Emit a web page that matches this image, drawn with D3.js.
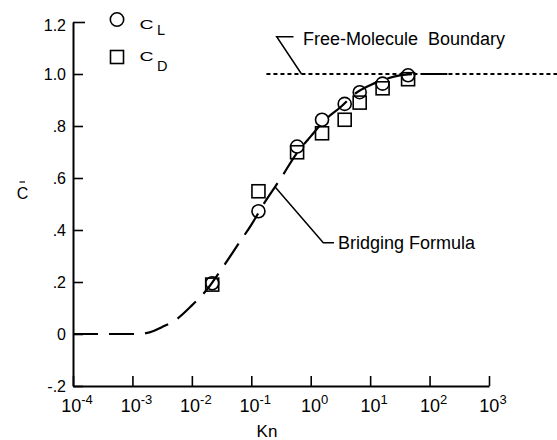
<!DOCTYPE html>
<html><head><meta charset="utf-8">
<script src="https://cdn.jsdelivr.net/npm/d3@7"></script>
<style>
body{margin:0;background:#fff;}
svg{display:block;font-family:"Liberation Sans",Arial,Helvetica,sans-serif;}
</style></head>
<body>
<svg id="chart" width="557" height="440"></svg>
<script>
// ---- data ----
const knPoints = [0.022, 0.132, 0.59, 1.55, 3.73, 6.67, 16.2, 43.5];
const cL = [0.195, 0.472, 0.721, 0.824, 0.885, 0.930, 0.963, 0.995];
const cD = [0.190, 0.549, 0.699, 0.772, 0.824, 0.890, 0.945, 0.980];
// bridging formula curve (log10 Kn, C)
const bridgeLogKn = [-4, -3.5, -3, -2.75, -2.5, -2.25, -2, -1.75, -1.5, -1.25, -1, -0.75, -0.5, -0.25, 0, 0.25, 0.5, 0.75, 1.0, 1.25, 1.5, 1.75, 2.0, 2.3];
const bridgeC =     [0, 0, 0, 0.004, 0.027, 0.058, 0.11, 0.17, 0.25, 0.335, 0.42, 0.515, 0.60, 0.69, 0.76, 0.825, 0.872, 0.925, 0.957, 0.98, 0.995, 1.0, 1.0, 1.0];
// free molecule boundary
const fmKn = [0.18, 1000];
const fmC = [1.0, 1.0];
const xTicks = [1e-4, 1e-3, 1e-2, 1e-1, 1e0, 1e1, 1e2, 1e3];
const xTickExp = ["-4", "-3", "-2", "-1", "0", "1", "2", "3"];
const yTicks = [-0.2, 0, 0.2, 0.4, 0.6, 0.8, 1.0, 1.2];
const yTickLabels = ["-.2", "0", ".2", ".4", ".6", ".8", "1.0", "1.2"];

const svg = d3.select("#chart");
const x = d3.scaleLog().domain([1e-4, 1e3]).range([73, 489]);
const y = d3.scaleLinear().domain([-0.2, 1.2]).range([386, 22]);

// x axis
const gx = svg.append("g").attr("transform", `translate(0,${y(-0.2)})`)
  .call(d3.axisBottom(x).tickValues(xTicks).tickSizeInner(-10).tickSizeOuter(0).tickFormat(""));
gx.select(".domain").attr("stroke-width", 2);
gx.selectAll(".tick line").attr("stroke-width", 1.6);
xTicks.forEach((t, i) => {
  const tx = svg.append("text").attr("x", x(t) + 4).attr("y", 411.5)
    .attr("text-anchor", "middle").attr("font-size", 18).attr("fill", "#000");
  tx.append("tspan").text("10");
  tx.append("tspan").attr("font-size", 13).attr("dy", -8).text(xTickExp[i]);
});

// y axis
const gy = svg.append("g").attr("transform", `translate(${x(1e-4)},0)`)
  .call(d3.axisLeft(y).tickValues(yTicks).tickSizeInner(-10).tickSizeOuter(0).tickPadding(7)
    .tickFormat((d, i) => yTickLabels[i]));
gy.select(".domain").attr("stroke-width", 2);
gy.selectAll(".tick line").attr("stroke-width", 1.6);
gy.selectAll(".tick").filter(d => d === 1.2).select("line").attr("x2", 12);
gy.selectAll(".tick text").attr("font-size", 16).attr("font-family", "Liberation Sans, Arial, sans-serif").attr("fill", "#000");
gy.selectAll(".tick").filter(d => d === 1.2).select("text").attr("dy", "0.55em");

// free molecule boundary (dotted)
svg.append("line")
  .attr("x1", x(fmKn[0])).attr("x2", 557)
  .attr("y1", y(fmC[0])).attr("y2", y(fmC[1]))
  .attr("stroke", "#000").attr("stroke-width", 2).attr("stroke-dasharray", "4,3");

// bridging formula curve (dashed)
const line = d3.line().x(d => x(Math.pow(10, d[0]))).y(d => y(d[1])).curve(d3.curveMonotoneX);
svg.append("path").datum(bridgeLogKn.map((v, i) => [v, bridgeC[i]]))
  .attr("d", line).attr("fill", "none").attr("stroke", "#000")
  .attr("stroke-width", 2.2).attr("stroke-dasharray", "25,11");

// data markers
const sq = 13;
svg.append("g").selectAll("rect").data(knPoints).join("rect")
  .attr("x", (d) => x(d) - sq / 2).attr("y", (d, i) => y(cD[i]) - sq / 2)
  .attr("width", sq).attr("height", sq)
  .attr("fill", "none").attr("stroke", "#000").attr("stroke-width", 1.6);
svg.append("g").selectAll("circle").data(knPoints).join("circle")
  .attr("cx", d => x(d)).attr("cy", (d, i) => y(cL[i])).attr("r", 6.5)
  .attr("fill", "none").attr("stroke", "#000").attr("stroke-width", 1.6);

// legend
svg.append("circle").attr("cx", 117).attr("cy", 19.5).attr("r", 6.7)
  .attr("fill", "none").attr("stroke", "#000").attr("stroke-width", 1.6);
svg.append("rect").attr("x", 110.5).attr("y", 50.5).attr("width", 13).attr("height", 13)
  .attr("fill", "none").attr("stroke", "#000").attr("stroke-width", 1.6);
function legendLabel(tx, ty, sub, subY) {
  svg.append("text").attr("transform", `translate(${tx},${ty}) scale(1.15,0.75)`)
    .attr("font-size", 17).attr("fill", "#000").text("C");
  svg.append("text").attr("x", tx + 17.5).attr("y", subY)
    .attr("font-size", 14.5).attr("fill", "#000").text(sub);
}
legendLabel(139.5, 28.5, "L", 34.5);
legendLabel(139.5, 60.5, "D", 70.5);

// axis titles
svg.append("text").attr("x", 22.5).attr("y", 198.5).attr("text-anchor", "middle")
  .attr("font-size", 16).attr("fill", "#000").text("C");
svg.append("line").attr("x1", 19.5).attr("x2", 25).attr("y1", 182).attr("y2", 182)
  .attr("stroke", "#000").attr("stroke-width", 1.2);
svg.append("text").attr("x", 267).attr("y", 437).attr("text-anchor", "middle")
  .attr("font-size", 17).attr("fill", "#000").text("Kn");

// annotations
svg.append("path").attr("d", `M${x(0.70)},${y(1.0)} L276.7,36.7 L293.5,36.7`)
  .attr("fill", "none").attr("stroke", "#000").attr("stroke-width", 1.5);
svg.append("text").attr("x", 303).attr("y", 45).attr("font-size", 18).attr("fill", "#000")
  .attr("xml:space", "preserve").text("Free-Molecule  Boundary");
svg.append("path").attr("d", `M${x(0.25)},186.7 L323.3,242.7 L334,242.7`)
  .attr("fill", "none").attr("stroke", "#000").attr("stroke-width", 1.5);
svg.append("text").attr("x", 338).attr("y", 249).attr("font-size", 18).attr("fill", "#000")
  .text("Bridging Formula");
</script>
</body></html>
